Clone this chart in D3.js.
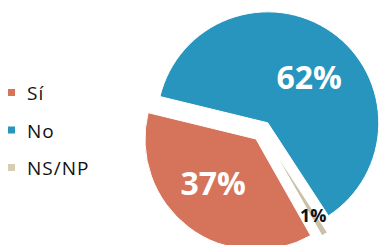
<!DOCTYPE html>
<html>
<head>
<meta charset="utf-8">
<script src="https://cdn.jsdelivr.net/npm/d3@7"></script>
<style>
  html, body { margin: 0; padding: 0; background: #fff; }
  svg { display: block; }
</style>
</head>
<body>
<svg id="chart" width="380" height="245"></svg>
<script>
// chart data
const categories = ["Sí", "No", "NS/NP"];
const values = [37, 62, 1];
const colors = ["#d5735b", "#2795bd", "#d6ceb4"];

const width = 380, height = 245;
const cx = 262, cy = 131, radius = 111;
const explode = 10;
const start = 150.5 * Math.PI / 180;

const svg = d3.select("#chart");

const pie = d3.pie()
  .sort(null)
  .value(d => d.value)
  .startAngle(start)
  .endAngle(start + 2 * Math.PI);

const arc = d3.arc().innerRadius(0).outerRadius(radius);

const rows = categories.map((c, i) => ({ name: c, value: values[i], color: colors[i] }));
const slices = pie(rows);

const g = svg.append("g").attr("transform", `translate(${cx},${cy})`);

const slice = g.selectAll("g.slice")
  .data(slices)
  .join("g")
    .attr("class", "slice")
    .attr("transform", d => {
      const a = (d.startAngle + d.endAngle) / 2;
      return `translate(${explode * Math.sin(a)},${-explode * Math.cos(a)})`;
    });

slice.append("path")
  .attr("d", arc)
  .attr("fill", d => d.data.value < 5 ? "#c9c1a8" : d.data.color)
  .attr("stroke", "#fff")
  .attr("stroke-width", d => d.data.value < 5 ? 1.4 : 1);

// labels: big ones inside, small one near the rim
slice.append("text")
  .attr("transform", d => {
    const a = (d.startAngle + d.endAngle) / 2 + (d.data.value < 5 ? 0 : 0.12);
    const r = d.data.value < 5 ? radius * 0.8 : radius * 0.555;
    return `translate(${r * Math.sin(a)},${-r * Math.cos(a)})`;
  })
  .attr("text-anchor", "middle")
  .attr("dy", "0.36em")
  .attr("font-family", "'Open Sans', sans-serif")
  .attr("font-weight", "bold")
  .attr("font-size", d => d.data.value < 5 ? 18 : 32)
  .attr("fill", d => d.data.value < 5 ? "#111" : "#fff")
  .text(d => d.data.value + "%");

// legend
const legendY = d3.scalePoint()
  .domain(categories)
  .range([100, 175]);

const legend = svg.append("g")
  .selectAll("g")
  .data(rows)
  .join("g")
    .attr("transform", d => `translate(0,${legendY(d.name)})`);

legend.append("rect")
  .attr("x", 8)
  .attr("y", -11)
  .attr("width", 7)
  .attr("height", 7)
  .attr("fill", d => d.color);

legend.append("text")
  .attr("x", 27)
  .attr("y", 0)
  .attr("font-family", "'Open Sans', sans-serif")
  .attr("font-size", 19)
  .attr("letter-spacing", 1)
  .attr("fill", "#111")
  .text(d => d.name);
</script>
</body>
</html>
